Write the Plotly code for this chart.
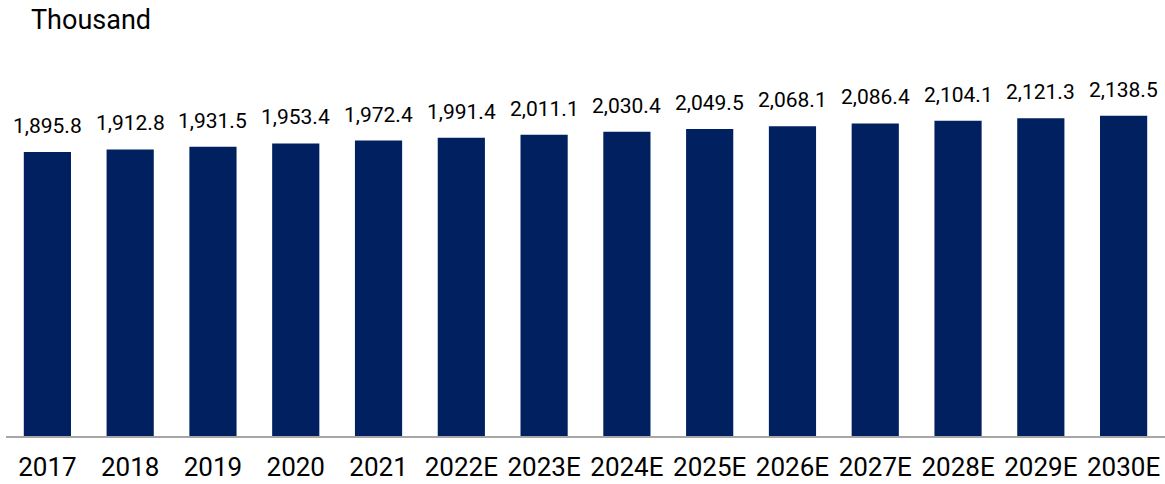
import plotly.graph_objects as go

categories = ["2017", "2018", "2019", "2020", "2021", "2022E", "2023E", "2024E",
              "2025E", "2026E", "2027E", "2028E", "2029E", "2030E"]
values = [1895.8, 1912.8, 1931.5, 1953.4, 1972.4, 1991.4, 2011.1, 2030.4,
          2049.5, 2068.1, 2086.4, 2104.1, 2121.3, 2138.5]
unit_label = "Thousand"

FONT = "Roboto"
BAR_COLOR = "#002060"

positions = list(range(len(categories)))

fig = go.Figure()
fig.add_trace(go.Bar(
    x=positions, y=values,
    width=0.57,
    marker=dict(color=BAR_COLOR, line=dict(width=0)),
    hoverinfo="skip",
))

for p, v in zip(positions, values):
    fig.add_annotation(
        x=p, y=v, xref="x", yref="y",
        text=f"{v:,.1f}", showarrow=False,
        yanchor="bottom", yshift=12,
        font=dict(family=FONT, size=21, color="#000000"),
    )

fig.add_annotation(
    x=(29 - 6) / 1159, y=1 + (40 - 2) / 396, xref="paper", yref="paper",
    text=unit_label, showarrow=False,
    xanchor="left", yanchor="top",
    font=dict(family=FONT, size=27, color="#000000"),
)

fig.update_layout(
    width=1165, height=484,
    margin=dict(l=6, r=0, t=40, b=48),
    paper_bgcolor="white", plot_bgcolor="white",
    showlegend=False,
    xaxis=dict(
        type="linear",
        range=[-0.5, len(categories) - 0.5],
        tickmode="array", tickvals=positions, ticktext=categories,
        showline=True, linecolor="#A6A6A6", linewidth=2,
        ticks="", showgrid=False, zeroline=False,
        ticklabelstandoff=7,
        tickfont=dict(family=FONT, size=26, color="#000000"),
    ),
    yaxis=dict(
        range=[0, 396 / 0.1498], visible=False, showgrid=False, zeroline=False,
    ),
)

fig.write_html("out.html")
